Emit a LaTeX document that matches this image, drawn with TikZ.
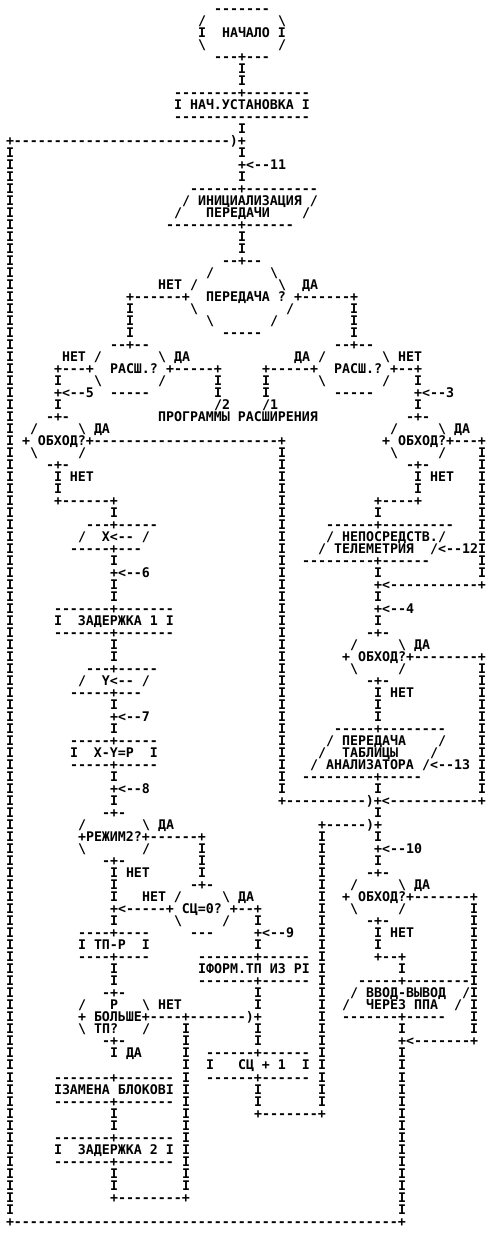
\documentclass[tikz,border=0pt]{standalone}
\usepackage{fontspec}
\setmonofont{DejaVu Sans Mono}
\newcounter{tk}
\newcommand\bs{\textbackslash}
\tikzset{txt/.style={anchor=base west,inner sep=0pt,outer sep=0pt,font=\ttfamily\bfseries\fontsize{13.288}{13.288}\selectfont}}
\newcommand\T[3]{\stepcounter{tk}\node[txt] (t\arabic{tk}) at ({6+8*(#2)},{-(13.1+12.01*((#1)-1))}) {#3};}
\begin{document}
\begin{tikzpicture}[x=1pt,y=1pt]
\path[fill=white,use as bounding box] (0,0) rectangle (492,-1233);
% vertical runs
\foreach \n in {13,...,101}{\T{\n}{0}{I}}
\foreach \n in {6,7,11,13,15,20,21}{\T{\n}{29}{I}}
\foreach \n in {26,27,28}{\T{\n}{15}{I}\T{\n}{43}{I}}
\foreach \n in {32,34,41}{\T{\n}{6}{I}\T{\n}{51}{I}}
\foreach \n in {32,33}{\T{\n}{26}{I}\T{\n}{32}{I}}
\foreach \n in {38,...,66}{\T{\n}{34}{I}}
\foreach \n in {38,...,45,47,48,56,57,...,66}{\T{\n}{59}{I}}
\foreach \n in {43,47,49,50,54,55,59,61,65,67,74,75,77,81,82,93,94,98,99}{\T{\n}{13}{I}}
\foreach \n in {43,48,50,52,59,60,66,68,70,72,79}{\T{\n}{46}{I}}
\foreach \n in {71,72,73}{\T{\n}{24}{I}}
\foreach \n in {70,...,92}{\T{\n}{39}{I}}
\foreach \n in {76,...,86}{\T{\n}{58}{I}}
\foreach \n in {77,79,83,84,86,87,91,92}{\T{\n}{31}{I}}
\foreach \n in {86,...,99}{\T{\n}{22}{I}}
\foreach \n in {81,86,88,89,...,101}{\T{\n}{49}{I}}
% lines
\T{1}{26}{-------}
\T{2}{24}{/}\T{2}{34}{\bs}
\T{3}{24}{I~~НАЧАЛО~I}
\T{4}{24}{\bs}\T{4}{34}{/}
\T{5}{26}{---+---}
\T{8}{21}{--------+--------}
\T{9}{21}{I~НАЧ.УСТАНОВКА~I}
\T{10}{21}{-----------------}
\T{12}{0}{+---------------------------)+}
\T{14}{29}{+<--11}
\T{16}{23}{------+---------}
\T{17}{22}{/~ИНИЦИАЛИЗАЦИЯ~/}
\T{18}{21}{/}\T{18}{25}{ПЕРЕДАЧИ}\T{18}{37}{/}
\T{19}{20}{---------+------}
\T{22}{27}{--+--}
\T{23}{25}{/}\T{23}{33}{\bs}
\T{24}{19}{НЕТ~/}\T{24}{34}{\bs~~ДА}
\T{25}{15}{+------+}\T{25}{25}{ПЕРЕДАЧА~?}\T{25}{36}{+------+}
\T{26}{23}{\bs}\T{26}{35}{/}
\T{27}{25}{\bs}\T{27}{33}{/}
\T{28}{27}{-----}
\T{29}{13}{--+--}\T{29}{41}{--+--}
\T{30}{7}{НЕТ~/}\T{30}{19}{\bs~ДА}\T{30}{36}{ДА~/}\T{30}{47}{\bs~НЕТ}
\T{31}{6}{+---+}\T{31}{13}{РАСШ.?}\T{31}{20}{+-----+}\T{31}{32}{+-----+}\T{31}{41}{РАСШ.?}\T{31}{48}{+--+}
\T{32}{11}{\bs}\T{32}{19}{/}\T{32}{39}{\bs}\T{32}{47}{/}
\T{33}{6}{+<--5}\T{33}{13}{-----}\T{33}{41}{-----}\T{33}{51}{+<--3}
\T{34}{26}{/2}\T{34}{32}{/1}
\T{35}{5}{-+-}\T{35}{19}{ПРОГРАММЫ~РАСШИРЕНИЯ}\T{35}{50}{-+-}
\T{36}{3}{/}\T{36}{9}{\bs~ДА}\T{36}{48}{/}\T{36}{54}{\bs~ДА}
\T{37}{2}{+~ОБХОД?+-----------------------+}\T{37}{47}{+~ОБХОД?+---+}
\T{38}{3}{\bs}\T{38}{9}{/}\T{38}{48}{\bs}\T{38}{54}{/}
\T{39}{5}{-+-}\T{39}{50}{-+-}
\T{40}{6}{I~НЕТ}\T{40}{51}{I~НЕТ}
\T{42}{6}{+------+}\T{42}{46}{+----+}
\T{44}{10}{---+-----}\T{44}{40}{------+---------}
\T{45}{9}{/~~X<--~/}\T{45}{40}{/}\T{45}{42}{НЕПОСРЕДСТВ.}\T{45}{54}{/}
\T{46}{8}{-----+---}\T{46}{39}{/}\T{46}{41}{ТЕЛЕМЕТРИЯ}\T{46}{53}{/<--12I}
\T{47}{37}{---------+------}
\T{48}{13}{+<--6}
\T{49}{46}{+<-----------+}
\T{51}{6}{-------+-------}\T{51}{46}{+<--4}
\T{52}{6}{I~~ЗАДЕРЖКА~1~I}
\T{53}{6}{-------+-------}\T{53}{45}{-+-}
\T{54}{43}{/}\T{54}{49}{\bs~ДА}
\T{55}{42}{+~ОБХОД?+--------+}
\T{56}{10}{---+-----}\T{56}{43}{\bs}\T{56}{49}{/}
\T{57}{9}{/~~Y<--~/}\T{57}{45}{-+-}
\T{58}{8}{-----+---}\T{58}{46}{I~НЕТ}
\T{60}{13}{+<--7}
\T{61}{41}{-----+--------}
\T{62}{8}{-----+-----}\T{62}{40}{/}\T{62}{42}{ПЕРЕДАЧА}\T{62}{54}{/}
\T{63}{8}{I~~X-Y=P~~I}\T{63}{39}{/}\T{63}{42}{ТАБЛИЦЫ}\T{63}{53}{/}
\T{64}{8}{-----+-----}\T{64}{38}{/}\T{64}{40}{АНАЛИЗАТОРА}\T{64}{52}{/<--13}
\T{65}{37}{---------+-----}
\T{66}{13}{+<--8}
\T{67}{34}{+----------)+<-----------+}
\T{68}{12}{-+-}
\T{69}{9}{/}\T{69}{17}{\bs~ДА}\T{69}{39}{+-----)+}
\T{70}{9}{+РЕЖИМ2?+------+}
\T{71}{9}{\bs}\T{71}{17}{/}\T{71}{46}{+<--10}
\T{72}{12}{-+-}
\T{73}{13}{I~НЕТ}\T{73}{45}{-+-}
\T{74}{23}{-+-}\T{74}{43}{/}\T{74}{49}{\bs~ДА}
\T{75}{17}{НЕТ~/}\T{75}{27}{\bs~ДА}\T{75}{42}{+~ОБХОД?+-------+}
\T{76}{13}{+<-----+~СЦ=0?~+--+}\T{76}{43}{\bs}\T{76}{49}{/}
\T{77}{21}{\bs}\T{77}{27}{/}\T{77}{45}{-+-}
\T{78}{9}{----+----}\T{78}{23}{---}\T{78}{31}{+<--9}\T{78}{46}{I~НЕТ}
\T{79}{9}{I~ТП-Р~~I}
\T{80}{9}{----+----}\T{80}{24}{-------+------}\T{80}{46}{+--+}
\T{81}{24}{IФОРМ.ТП~ИЗ~PI}
\T{82}{24}{-------+------}\T{82}{44}{-----+--------}
\T{83}{12}{-+-}\T{83}{43}{/}\T{83}{45}{ВВОД-ВЫВОД}\T{83}{57}{/}
\T{84}{9}{/}\T{84}{13}{Р}\T{84}{17}{\bs~НЕТ}\T{84}{42}{/}\T{84}{45}{ЧЕРЕЗ~ППА}\T{84}{56}{/}
\T{85}{9}{+~БОЛЬШЕ+----+-------)+}\T{85}{42}{-------+-----}
\T{86}{9}{\bs}\T{86}{11}{ТП?}\T{86}{17}{/}
\T{87}{12}{-+-}\T{87}{49}{+<-------+}
\T{88}{13}{I~ДА}\T{88}{25}{------+------}
\T{89}{25}{I~~~СЦ~+~1~~I}
\T{90}{6}{-------+-------}\T{90}{25}{------+------}
\T{91}{6}{IЗАМЕНА~БЛОКОВI}
\T{92}{6}{-------+-------}
\T{93}{31}{+-------+}
\T{95}{6}{-------+-------}
\T{96}{6}{I~~ЗАДЕРЖКА~2~I}
\T{97}{6}{-------+-------}
\T{100}{13}{+--------+}
\T{102}{0}{+------------------------------------------------+}
\end{tikzpicture}
\end{document}
